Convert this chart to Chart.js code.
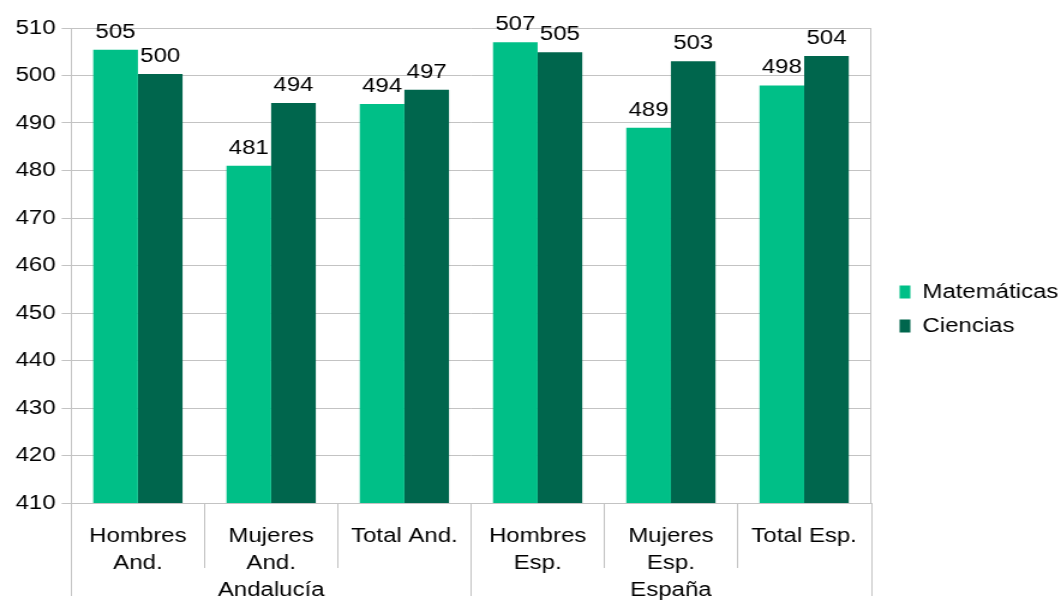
<!DOCTYPE html>
<html>
<head>
<meta charset="utf-8">
<script src="https://cdn.jsdelivr.net/npm/chart.js@4/dist/chart.umd.min.js"></script>
<style>
  html, body { margin: 0; padding: 0; background: #fff; }
  #chart { display: block; }
</style>
</head>
<body>
<canvas id="chart" width="884" height="602" style="width:1061px;height:602px"></canvas>
<script>
// data
const categories = [["Hombres", "And."], ["Mujeres", "And."], "Total And.", ["Hombres", "Esp."], ["Mujeres", "Esp."], "Total Esp."];
const groups = ["Andalucía", "España"];
const groupSize = 3;
const matematicas = [505.4, 481.0, 494.0, 507.0, 489.0, 497.9];
const ciencias = [500.3, 494.2, 497.0, 504.9, 503.0, 504.1];
const yTicks = { min: 410, max: 510, step: 10 };

const GRID = "#c3c3c3";
const FONT = "'Liberation Sans', Arial, sans-serif";

Chart.defaults.font.family = FONT;
Chart.defaults.font.size = 20;
Chart.defaults.color = "#000";

// valores encima de cada barra
const valueLabels = {
    id: "valueLabels",
    afterDatasetsDraw(chart) {
        const ctx = chart.ctx;
        ctx.save();
        ctx.font = "20px " + FONT;
        ctx.fillStyle = "#000";
        ctx.textAlign = "center";
        ctx.textBaseline = "alphabetic";
        chart.data.datasets.forEach((ds, i) => {
            chart.getDatasetMeta(i).data.forEach((bar, j) => {
                ctx.fillText(Math.round(ds.data[j]), bar.x, bar.y - 12);
            });
        });
        ctx.restore();
    }
};

// separadores de categorías y etiquetas de grupo
const groupAxis = {
    id: "groupAxis",
    afterDraw(chart) {
        const x = chart.scales.x;
        const ctx = chart.ctx;
        const n = categories.length;
        const edge = (i) => {
            if (i === 0) return chart.chartArea.left;
            if (i === n) return chart.chartArea.right;
            return (x.getPixelForValue(i - 1) + x.getPixelForValue(i)) / 2;
        };
        ctx.save();
        ctx.strokeStyle = GRID;
        ctx.lineWidth = 1;
        for (let i = 0; i <= n; i++) {
            const px = Math.round(edge(i)) + 0.5;
            const end = i % groupSize === 0 ? x.top + 93 : x.top + 65;
            ctx.beginPath();
            ctx.moveTo(px, x.top);
            ctx.lineTo(px, end);
            ctx.stroke();
        }
        ctx.font = "20px " + FONT;
        ctx.fillStyle = "#000";
        ctx.textAlign = "center";
        ctx.textBaseline = "middle";
        groups.forEach((g, k) => {
            const cx = (edge(k * groupSize) + edge((k + 1) * groupSize)) / 2;
            ctx.fillText(g, cx, x.top + 87);
        });
        ctx.restore();
    }
};

new Chart(document.getElementById("chart"), {
    type: "bar",
    data: {
        labels: categories,
        datasets: [
            {
                label: "Matemáticas",
                data: matematicas,
                backgroundColor: "#00bf87",
                borderWidth: 0,
                categoryPercentage: 0.67,
                barPercentage: 1.0
            },
            {
                label: "Ciencias",
                data: ciencias,
                backgroundColor: "#00664d",
                borderWidth: 0,
                categoryPercentage: 0.67,
                barPercentage: 1.0
            }
        ]
    },
    options: {
        responsive: false,
        devicePixelRatio: 1,
        animation: false,
        layout: { padding: { top: 28, bottom: 12, left: 8, right: 3 } },
        scales: {
            x: {
                grid: { display: false, drawTicks: false },
                border: { display: true, color: GRID },
                ticks: { padding: 20, maxRotation: 0, autoSkip: false, font: { size: 20, lineHeight: 1.35 } },
                afterFit: (s) => { s.height = 87; }
            },
            y: {
                min: yTicks.min,
                max: yTicks.max,
                grid: { color: GRID, tickLength: 8 },
                border: { display: true, color: GRID },
                ticks: { stepSize: yTicks.step, padding: 5 }
            },
            y2: {
                position: "right",
                min: yTicks.min,
                max: yTicks.max,
                grid: { drawOnChartArea: false, drawTicks: false },
                border: { display: true, color: GRID },
                ticks: { display: false },
                afterFit: (s) => { s.width = 10; }
            }
        },
        plugins: {
            legend: {
                position: "right",
                labels: { boxWidth: 9, boxHeight: 13, padding: 14, color: "#000" }
            },
            tooltip: { enabled: false }
        }
    },
    plugins: [valueLabels, groupAxis]
});
</script>
</body>
</html>
